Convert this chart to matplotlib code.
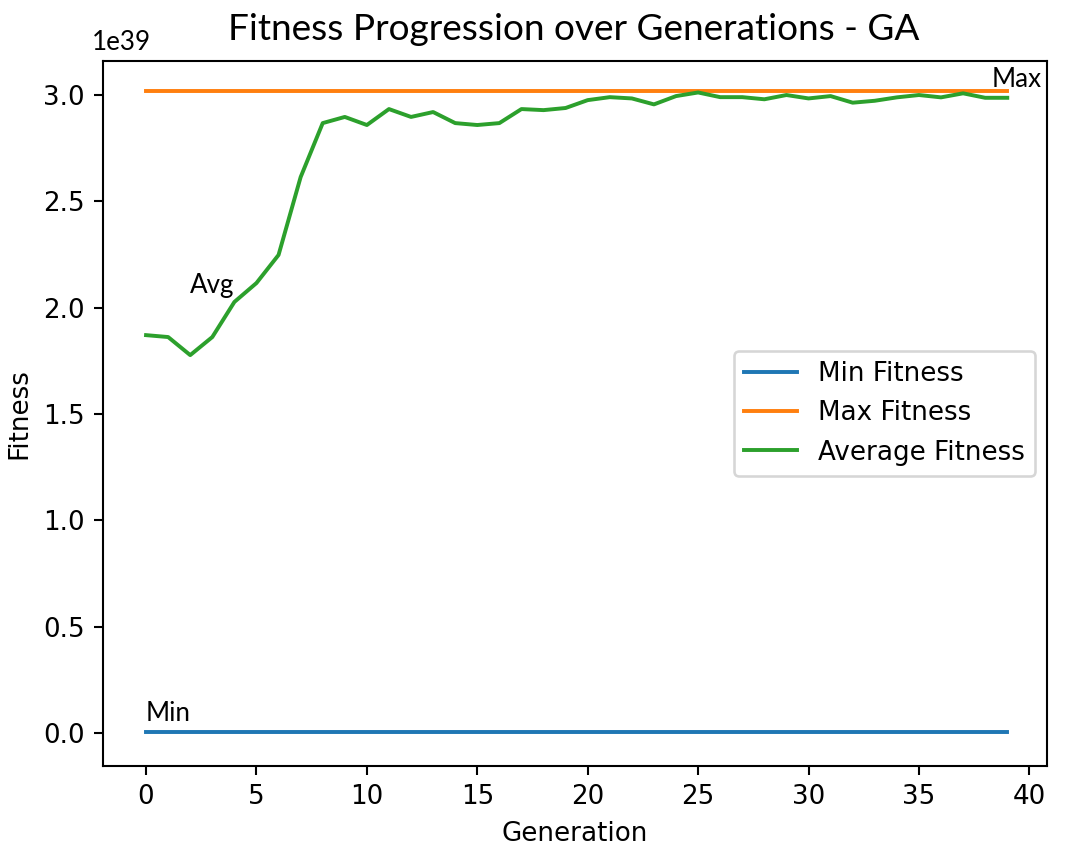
import matplotlib
matplotlib.use("Agg")
import matplotlib.pyplot as plt
import numpy as np

# fitness values per generation (units of 1e39)
generations = list(range(40))
min_fitness = [0.003] * 40
max_fitness = [3.02] * 40
avg_fitness = [1.871, 1.862, 1.777, 1.862, 2.027, 2.116, 2.248, 2.614, 2.868, 2.897,
               2.859, 2.934, 2.897, 2.920, 2.868, 2.859, 2.868, 2.934, 2.929, 2.939,
               2.976, 2.990, 2.984, 2.956, 2.995, 3.012, 2.990, 2.990, 2.980, 3.000,
               2.984, 2.995, 2.964, 2.973, 2.989, 3.000, 2.989, 3.008, 2.987, 2.987]
scale = 1e39

DPI = 188
W, H = 1068, 858
fig = plt.figure(figsize=(W / DPI, H / DPI), dpi=DPI)
# axes box in pixels: left 103, right 1047, top 61, bottom 766
ax = fig.add_axes([103 / W, (H - 766) / H, 944 / W, 705 / H])

ax.plot(generations, np.array(min_fitness) * scale, label='Min Fitness')
ax.plot(generations, np.array(max_fitness) * scale, label='Max Fitness')
ax.plot(generations, np.array(avg_fitness) * scale, label='Average Fitness')

ax.set_xlabel('Generation')
ax.set_ylabel('Fitness')
ax.set_xlim(-1.95, 40.8)
ax.set_ylim(-0.155e39, 3.16e39)
ax.set_xticks(range(0, 41, 5))

ax.legend(loc='center right', bbox_to_anchor=(1.001, 0.50))

def px(size):
    return size * 72 / DPI

# labels added in a calibri-like face
note_font = dict(family='Lato', fontsize=px(26))
ax.text(0.0, 0.055e39, 'Min', **note_font)
ax.text(2.0, 2.07e39, 'Avg', **note_font)
ax.text(38.3, 3.04e39, 'Max', **note_font)

ax.yaxis.get_offset_text().set_visible(False)
fig.text(92 / W, (H - 50) / H, '1e39', family='Lato', fontsize=px(26))
fig.text(0.537, (H - 40) / H, 'Fitness Progression over Generations - GA',
         family='Lato', fontsize=px(37), ha='center')

fig.savefig('out.png', dpi=DPI)
